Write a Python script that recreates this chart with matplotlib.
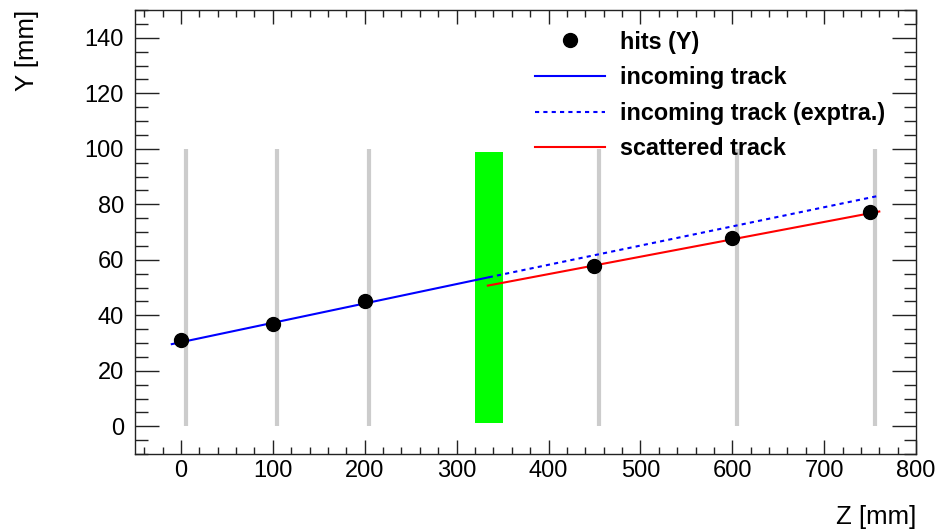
import matplotlib as mpl
mpl.use('Agg')
import matplotlib.pyplot as plt
from matplotlib.ticker import MultipleLocator

# detector planes and measured hits
plane_z = [5, 105, 205, 455, 605, 755]
plane_y = [0, 100]
hit_z = [0, 100, 200, 450, 600, 750]
hit_y = [31.0, 36.9, 45.0, 57.9, 67.7, 77.1]

# absorber block
absorber_z = [320, 350]
absorber_y = [1, 99]

# fitted tracks (end points)
incoming_z = [-10, 335]
incoming_y = [29.6, 53.7]
extrap_z = [335, 760]
extrap_y = [53.7, 83.1]
scattered_z = [334, 760]
scattered_y = [50.7, 77.4]

plt.rcParams['font.family'] = ['Liberation Sans', 'DejaVu Sans']

fig = plt.figure(figsize=(9.43, 5.31), dpi=100)
ax = fig.add_axes([0.1432, 0.145, 0.8282, 0.836])

for z in plane_z:
    ax.plot([z, z], plane_y, color='#cccccc', lw=3, solid_capstyle='butt', zorder=1)

ax.fill_between(absorber_z, absorber_y[0], absorber_y[1], color='#00ff00', lw=0, zorder=2)

ax.plot(hit_z, hit_y, 'o', color='black', ms=10, zorder=4, label='hits (Y)')
ax.plot(incoming_z, incoming_y, color='#0000ff', lw=1.5, zorder=3, label='incoming track')
ax.plot(extrap_z, extrap_y, color='#0000ff', lw=1.5, ls=(0, (2, 2)), zorder=3,
        label='incoming track (exptra.)')
ax.plot(scattered_z, scattered_y, color='#ff0000', lw=1.5, zorder=3, label='scattered track')

ax.set_xlim(-50, 800)
ax.set_ylim(-10, 150)
ax.xaxis.set_major_locator(MultipleLocator(100))
ax.xaxis.set_minor_locator(MultipleLocator(20))
ax.yaxis.set_major_locator(MultipleLocator(20))
ax.yaxis.set_minor_locator(MultipleLocator(5))

ax.tick_params(axis='both', which='both', direction='in', top=True, right=True,
               colors='#222222', labelcolor='black', labelsize=17)
ax.tick_params(axis='x', which='major', length=10, width=1, pad=4)
ax.tick_params(axis='x', which='minor', length=5, width=1)
ax.tick_params(axis='y', which='major', length=17, width=1, pad=8)
ax.tick_params(axis='y', which='minor', length=9, width=1)
for s in ax.spines.values():
    s.set_color('#222222')
    s.set_linewidth(1)

ax.set_xlabel('Z [mm]', fontsize=18.5, loc='right')
ax.xaxis.set_label_coords(1.0, -0.115)
ax.set_ylabel('Y [mm]', fontsize=18.5, loc='top')
ax.yaxis.set_label_coords(-0.123, 1.0)

leg = ax.legend(loc='upper left', bbox_to_anchor=(0.5005, 0.975), frameon=False,
                prop={'weight': 'bold', 'size': 16.8},
                handlelength=3.0, handletextpad=0.64, labelspacing=0.54,
                borderaxespad=0, numpoints=1)

fig.savefig('out.png', dpi=100)
